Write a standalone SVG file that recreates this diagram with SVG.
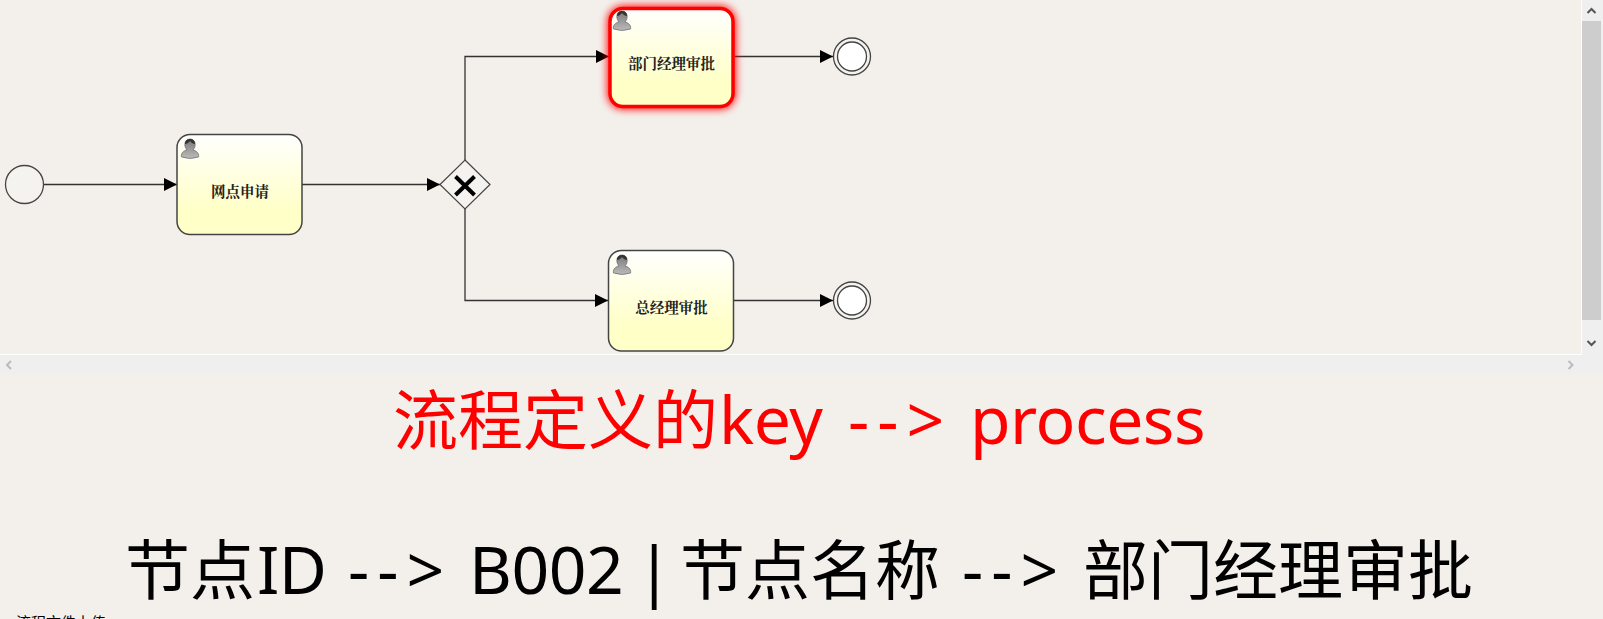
<svg xmlns="http://www.w3.org/2000/svg" width="1603" height="619" viewBox="0 0 1603 619">
<style>
.task{fill:url(#tg);stroke:#444;stroke-width:1.5}
.lbl{font-family:"Noto Serif CJK SC","Noto Sans CJK SC",serif;font-size:14.5px;font-weight:700;fill:#222;text-anchor:middle}
.flow{fill:none;stroke:#333;stroke-width:1.3;marker-end:url(#arr)}
.big{font-family:"Noto Sans CJK SC",sans-serif;font-size:65px;font-weight:400}
.lat{font-family:"Noto Sans",sans-serif;font-size:66px;letter-spacing:-.5px}
.arw{font-family:"Noto Sans",sans-serif;font-size:66px;letter-spacing:8px}
.ev{fill:#f5f3ef;stroke:#444;stroke-width:1.3}
</style>
<defs>
<linearGradient id="tg" x1="0" y1="0" x2="0" y2="1"><stop offset="0" stop-color="#fff"/><stop offset="0.75" stop-color="#ffffc8"/><stop offset="1" stop-color="#ffffc8"/></linearGradient>
<linearGradient id="ug" x1="0" y1="0" x2="0" y2="1"><stop offset="0" stop-color="#777"/><stop offset="1" stop-color="#bbb"/></linearGradient>
<marker id="arr" markerUnits="userSpaceOnUse" markerWidth="14" markerHeight="14" refX="13" refY="6.500" orient="auto"><path d="M0 0L13 6.500L0 13Z" fill="#000"/></marker>
<filter id="glow" x="-20%" y="-20%" width="140%" height="140%"><feGaussianBlur stdDeviation="4"/></filter>
<g id="user"><path d="M-8.500 16C-9.500 12-6 9.500-3 9C-5 7-5.500 4-5 2C-4.500-1-2-2 0-2C2-2 4.500-1 5 2C5.500 4 5 7 3 9C6 9.500 9.500 12 8.500 16Q0 19-8.500 16Z" fill="url(#ug)" stroke="#666" stroke-width=".7"/><path d="M-5 3C-5-1-2-2 0-2C2-2 5-1 5 3C3 3 1 1 0 0C-1 1-3 3-5 3Z" fill="#333"/></g>
</defs>
<rect width="1603" height="619" fill="#f3f0ec"/>
<g id="scrollbars">
<rect x="0" y="355" width="1603" height="19" fill="#efefef"/>
<rect x="1581" y="0" width="22" height="374" fill="#efefef"/>
<path d="M0 354.500H1581.500V0" fill="none" stroke="#fff" stroke-width="1"/>
<rect x="1582" y="21" width="19" height="299" fill="#cdcdcd"/>
<path d="M1587.500 13L1591.500 9L1595.500 13" fill="none" stroke="#555" stroke-width="2"/>
<path d="M1587.500 341L1591.500 345L1595.500 341" fill="none" stroke="#555" stroke-width="2"/>
<path d="M11 361L7 365L11 369" fill="none" stroke="#bbb" stroke-width="2"/>
<path d="M1568.500 361L1572.500 365L1568.500 369" fill="none" stroke="#bbb" stroke-width="2"/>
</g>
<g id="connectors">
<path class="flow" d="M44 184.500H177"/>
<path class="flow" d="M302 184.500H440"/>
<path class="flow" d="M465 160V56.500H609"/>
<path class="flow" d="M465 209V300.500H608"/>
<path class="flow" d="M735 56.500H833"/>
<path class="flow" d="M734 300.500H833"/>
</g>
<g id="start"><circle class="ev" cx="24.500" cy="184.500" r="19"/></g>
<g id="task1"><rect class="task" x="177" y="134.500" width="125" height="100" rx="13"/><use href="#user" x="190" y="141"/><text class="lbl" x="240" y="197">网点申请</text></g>
<g id="gateway"><path d="M465 160L490 184.500L465 209L440 184.500Z" fill="#f5f3ef" stroke="#444" stroke-width="1.200"/><path d="M455.500 176.500L474.500 195M474.500 176.500L455.500 195" stroke="#000" stroke-width="4" fill="none"/></g>
<g id="task2"><rect x="610" y="8.500" width="123" height="98" rx="13" fill="#f00" stroke="#f00" stroke-width="5" filter="url(#glow)"/><rect x="610" y="8.500" width="123" height="98" rx="13" fill="url(#tg)" stroke="#f00" stroke-width="3.500"/><use href="#user" x="622" y="13"/><text class="lbl" x="671.500" y="69">部门经理审批</text></g>
<g id="task3"><rect class="task" x="608.500" y="250.500" width="125" height="100.500" rx="13"/><use href="#user" x="622" y="257"/><text class="lbl" x="671.500" y="313">总经理审批</text></g>
<g id="end1"><circle class="ev" cx="852" cy="56.500" r="18.500"/><circle class="ev" cx="852" cy="56.500" r="14.500" style="fill:#fff"/></g>
<g id="end2"><circle class="ev" cx="852" cy="300.500" r="18.500"/><circle class="ev" cx="852" cy="300.500" r="14.500" style="fill:#fff"/></g>
<text class="big" y="444" fill="#f00"><tspan x="393">流程定义的</tspan><tspan class="lat" x="719">key </tspan><tspan class="arw" x="848">--&gt; </tspan><tspan class="lat" x="970">process</tspan></text>
<text class="big" y="594" fill="#000"><tspan x="125">节点</tspan><tspan class="lat" x="257">ID </tspan><tspan class="arw" x="348">--&gt; </tspan><tspan class="lat" x="469">B002 </tspan><tspan class="lat" x="636" word-spacing="-12">| </tspan><tspan x="680">节点名称 </tspan><tspan class="arw" x="962">--&gt; </tspan><tspan x="1083">部门经理审批</tspan></text>
<text x="16" y="628" font-family="'Noto Sans CJK SC',sans-serif" font-size="15" fill="#000">流程文件上传</text>
</svg>
